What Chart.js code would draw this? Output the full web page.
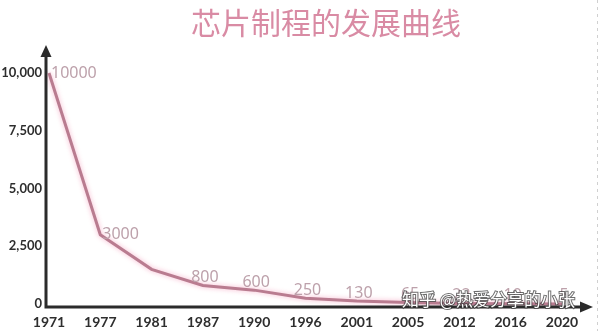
<!DOCTYPE html>
<html>
<head>
<meta charset="utf-8">
<script src="https://cdn.jsdelivr.net/npm/chart.js@4"></script>
<style>
  html, body { margin: 0; padding: 0; background: #fff; }
  #wrap { width: 600px; height: 331px; position: relative; }
</style>
</head>
<body>
<div id="wrap"><canvas id="chart"></canvas></div>
<script>
const years  = ['1971', '1977', '1981', '1987', '1990', '1996', '2001', '2005', '2012', '2016', '2020']
const nodes  = [10000, 3000, 1500, 800, 600, 250, 130, 65, 22, 10, 5]
const shown  = ['10000', '3000', '', '800', '600', '250', '130', '65', '22', '10', '5']
const yTicks = [0, 2500, 5000, 7500, 10000]

const TITLE     = '芯片制程的发展曲线'
const WATERMARK = '知乎 @热爱分享的小张'

const numFont  = "'Noto Sans', 'DejaVu Sans', sans-serif"
const tickFont = "Lato, 'Noto Sans', sans-serif"
const cjkFont  = "'Noto Sans CJK SC', sans-serif"

// title, axes with arrows, point labels, watermark
const decor = {
    id: 'decor',
    beforeDatasetsDraw(chart) {
        const c = chart.ctx
        c.save()
        c.shadowColor = 'rgba(245,160,190,0.8)'
        c.shadowBlur  = 5
    },
    afterDatasetsDraw(chart) {
        const c = chart.ctx
        c.restore()
        const a = chart.chartArea

        // title
        c.save()
        c.font = '30px ' + cjkFont
        c.fillStyle = '#d98ba4'
        c.textAlign = 'center'
        c.textBaseline = 'middle'
        c.fillText(TITLE, 326, 23)
        c.restore()

        // axes
        const ax = a.left - 3, ay = a.bottom + 3
        c.save()
        c.strokeStyle = '#2b2b2b'
        c.fillStyle = '#2b2b2b'
        c.lineWidth = 3
        c.beginPath()
        c.moveTo(ax, ay + 1.5)
        c.lineTo(ax, 55)
        c.moveTo(ax - 1.5, ay)
        c.lineTo(582, ay)
        c.stroke()
        c.beginPath()
        c.moveTo(ax, 45); c.lineTo(ax - 5.5, 57); c.lineTo(ax + 5.5, 57); c.closePath()
        c.fill()
        c.beginPath()
        c.moveTo(593, ay); c.lineTo(580, ay - 5.5); c.lineTo(580, ay + 5.5); c.closePath()
        c.fill()
        c.restore()

        // value labels
        const meta = chart.getDatasetMeta(0)
        c.save()
        c.font = '16px ' + numFont
        c.fillStyle = '#bda1ab'
        c.textBaseline = 'middle'
        meta.data.forEach((pt, i) => {
            if (!shown[i]) return
            if (nodes[i] >= 1000) {
                c.textAlign = 'left'
                c.fillText(shown[i], pt.x + 2, pt.y)
            } else {
                c.textAlign = 'center'
                c.fillText(shown[i], pt.x + 2, pt.y - 8)
            }
        })
        c.restore()

        // watermark
        c.save()
        c.font = '17px ' + cjkFont
        c.textAlign = 'left'
        c.textBaseline = 'middle'
        c.lineWidth = 2
        c.strokeStyle = 'rgba(60,60,60,0.75)'
        c.fillStyle = '#ffffff'
        c.strokeText(WATERMARK, 402, 300)
        c.fillText(WATERMARK, 402, 300)
        c.restore()

        // right edge dashed border
        c.save()
        c.strokeStyle = '#d0d0d0'
        c.setLineDash([3, 4])
        c.lineWidth = 1
        c.beginPath()
        c.moveTo(597.5, 0); c.lineTo(597.5, 331)
        c.stroke()
        c.restore()
    }
}

new Chart(document.getElementById('chart'), {
    type: 'line',
    data: {
        labels: years,
        datasets: [{
            data: nodes,
            borderColor: '#b97c90',
            borderWidth: 3,
            pointRadius: 0,
            tension: 0,
            clip: false
        }]
    },
    options: {
        responsive: true,
        maintainAspectRatio: false,
        animation: false,
        layout: { padding: { top: 73, right: 38, left: 0, bottom: 0 } },
        plugins: { legend: { display: false }, tooltip: { enabled: false } },
        scales: {
            x: {
                offset: false,
                grid: { display: false, drawTicks: false },
                border: { display: false },
                afterFit(s) { s.height = 27 },
                ticks: {
                    padding: 10,
                    maxRotation: 0,
                    autoSkip: false,
                    color: '#2e2e2e',
                    font: { family: tickFont, size: 14, weight: 'bold' }
                }
            },
            y: {
                min: 0,
                max: 10000,
                grid: { display: false, drawTicks: false },
                border: { display: false },
                afterFit(s) { s.width = 49 },
                afterBuildTicks(s) { s.ticks = yTicks.map(v => ({ value: v })) },
                ticks: {
                    padding: 7,
                    color: '#2e2e2e',
                    font: { family: tickFont, size: 13, weight: 'bold' },
                    callback: v => v.toLocaleString('en-US')
                }
            }
        }
    },
    plugins: [decor]
})
</script>
</body>
</html>
